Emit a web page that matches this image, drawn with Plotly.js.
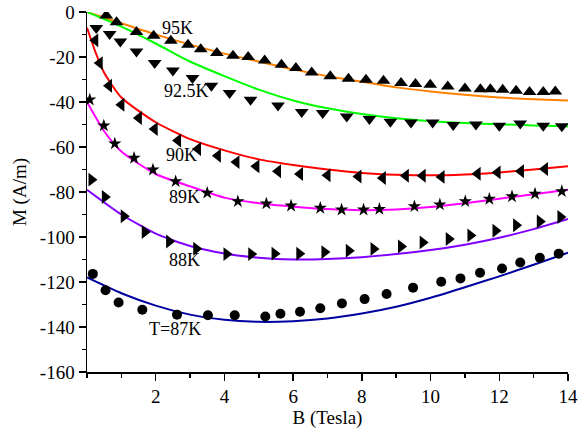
<!DOCTYPE html>
<html>
<head>
<meta charset="utf-8">
<script src="https://cdn.plot.ly/plotly-3.0.1.min.js"></script>
<style>html,body{margin:0;padding:0;background:#fff;}#chart{width:578px;height:434px;}</style>
</head>
<body>
<div id="chart"></div>
<script>
// ---- fitted curves ----
const fitB = [0, 1, 2, 3, 4, 5, 6, 7, 8, 9, 10, 11, 12, 13, 14];
const fit95 = [0, -5, -10, -14.5, -18.5, -22, -25.5, -28.5, -31, -33.5, -35.3, -36.8, -38, -38.8, -39.3];
const fit925 = [0, -6.5, -14, -22, -28.5, -34.5, -39.3, -42.8, -45.3, -47.2, -48.5, -49.3, -49.9, -50.4, -50.8];
const fit90B = [0, 0.25, 0.5, 1, 2, 3, 4, 5, 6, 7, 8, 9, 10, 11, 12, 13, 14];
const fit90 = [-7, -18, -27, -38, -49, -56.5, -61.5, -65.5, -68, -70, -71.5, -72.3, -72.6, -72.2, -71.3, -70, -68.6];
const fit89B = [0, 0.5, 1, 2, 3, 4, 5, 6, 7, 8, 9, 10, 11, 12, 13, 14];
const fit89 = [-40, -53, -62, -72, -77.5, -82.5, -85, -86.5, -87.6, -88.1, -87.8, -86.7, -85, -83, -81, -79];
const fit88 = [-79, -90, -98.5, -104, -107.3, -109.2, -110, -109.8, -109, -107.6, -105.8, -103.4, -100.3, -96.5, -92];
const fit87 = [-118, -125, -130.5, -134.5, -136.8, -137.7, -137.4, -136.2, -134, -131, -127, -122.3, -117.5, -112.3, -107];

// ---- measured points ----
const b95 = [0.56, 0.86, 1.44, 1.94, 2.44, 2.94, 3.31, 3.78, 4.25, 4.69, 5.17, 5.66, 6.08, 6.54, 7.08, 7.61, 8.12, 8.63, 9.14, 9.56, 9.99, 10.50, 11.00, 11.45, 11.74, 12.10, 12.49, 12.88, 13.28, 13.63];
const m95 = [-1.5, -4.5, -8.9, -10.5, -12.8, -14.5, -16.5, -18.2, -19.4, -20.0, -21.5, -23.4, -24.9, -26.9, -28.6, -29.7, -30.1, -30.6, -31.6, -32.0, -32.3, -33.1, -34.0, -34.3, -34.3, -34.6, -35.0, -35.6, -35.6, -35.3];
const b925 = [0.27, 0.66, 0.97, 1.44, 1.97, 2.50, 3.07, 3.62, 4.15, 4.76, 5.56, 6.25, 6.86, 7.56, 8.22, 8.83, 9.43, 10.06, 10.66, 11.32, 12.0, 12.61, 13.28, 13.82];
const m925 = [-7.1, -9.8, -13.1, -17.5, -22.7, -26, -29.3, -32.8, -36, -39, -41.6, -44.4, -44.9, -46.4, -47.6, -48.8, -49.1, -49.1, -50.2, -50, -50.5, -49.6, -50.5, -50.8];
const b90 = [0.24, 0.37, 0.64, 1.0, 1.51, 1.97, 2.65, 3.23, 3.81, 4.35, 4.93, 5.56, 6.20, 7.0, 7.9, 8.61, 9.28, 9.77, 10.32, 11.37, 11.95, 12.63, 13.33];
const m90 = [-12.6, -22.7, -32.8, -41.2, -47.1, -52, -57.1, -60.9, -63.9, -66.7, -68.6, -70.8, -72, -72.6, -73.1, -73.8, -72.8, -72.8, -73.3, -71.9, -71.3, -70.8, -69.8];
const b89 = [0.08, 0.49, 0.81, 1.37, 1.92, 2.58, 3.5, 4.39, 5.22, 5.94, 6.79, 7.41, 8.05, 8.51, 9.53, 10.27, 11.01, 11.71, 12.37, 13.04, 13.82];
const m89 = [-39, -50.5, -58.5, -64.9, -70.1, -75.3, -80.4, -84.2, -85.2, -86.1, -87.1, -87.9, -87.9, -87.6, -86.4, -85.6, -84.2, -83.1, -82, -80.8, -79.7];
const b88 = [0.13, 0.52, 1.07, 1.68, 2.39, 3.18, 4.06, 4.78, 5.46, 6.18, 6.91, 7.62, 8.34, 9.14, 9.77, 10.53, 11.16, 11.89, 12.49, 13.18, 13.78];
const m88 = [-74.5, -82.2, -90.8, -97.8, -102, -105.2, -107.6, -107.6, -107.4, -107.4, -106.7, -106.1, -105.3, -104.2, -102.4, -100.9, -99.3, -97.2, -94.8, -93.1, -91.1];
const b87 = [0.17, 0.54, 0.92, 1.61, 2.62, 3.52, 4.3, 5.19, 5.63, 6.2, 6.79, 7.42, 8.08, 8.72, 9.49, 10.31, 10.87, 11.44, 12.08, 12.61, 13.18, 13.73];
const m87 = [-116.4, -123.7, -129.1, -132.3, -134.5, -134.8, -134.8, -135.3, -134.1, -133.2, -131.7, -129.5, -127.6, -125.3, -122.5, -119.9, -118.4, -115.9, -114, -111.3, -109.2, -107.4];

const curveLabels = ["95K", "92.5K", "90K", "89K", "88K", "T=87K"];
const xTicks = [2, 4, 6, 8, 10, 12, 14];
const yTicks = [-160, -140, -120, -100, -80, -60, -40, -20, 0];

const FONT = "Liberation Serif";

function line(x, y, color) {
  return {x: x, y: y, mode: "lines", type: "scatter", line: {color: color, width: 2, shape: "spline", smoothing: 0.6}, hoverinfo: "skip"};
}
function pts(x, y, symbol, size) {
  return {x: x, y: y, mode: "markers", type: "scatter", marker: {symbol: symbol, size: size, color: "#000", line: {width: 0}}, hoverinfo: "skip"};
}

const data = [
  line(fitB, fit95, "#FF8000"),
  line(fitB, fit925, "#00FF00"),
  line(fit90B, fit90, "#FF0000"),
  line(fit89B, fit89, "#FF00FF"),
  line(fitB, fit88, "#8000FF"),
  line(fitB, fit87, "#0000A0"),
  pts(b95, m95, "triangle-up", 12),
  pts(b925, m925, "triangle-down", 12),
  pts(b90, m90, "triangle-left", 12),
  pts(b89, m89, "star", 10),
  pts(b88, m88, "triangle-right", 12),
  pts(b87, m87, "circle", 10)
];

const labelPos = [[2.64, -7], [2.89, -35.3], [2.75, -63.4], [2.84, -82], [2.84, -110.4], [2.55, -140.9]];
const annotations = curveLabels.map((t, i) => ({
  x: labelPos[i][0], y: labelPos[i][1], text: t, showarrow: false,
  xref: "x", yref: "y", font: {family: FONT, size: 18, color: "#000"}
}));

const layout = {
  width: 578, height: 434,
  margin: {l: 87, r: 10, t: 12, b: 62},
  paper_bgcolor: "#fff", plot_bgcolor: "#fff",
  showlegend: false,
  font: {family: FONT, size: 19, color: "#000"},
  xaxis: {
    range: [0, 14], tickvals: xTicks, ticktext: xTicks.map(String),
    showgrid: false, zeroline: false, showline: true, linecolor: "#000", linewidth: 1.5,
    ticks: "outside", ticklen: 7, tickwidth: 1.5, tickcolor: "#000",
    minor: {dtick: 1, tick0: 0, ticks: "outside", ticklen: 4, tickwidth: 1.5, tickcolor: "#000", showgrid: false},
    tickfont: {family: FONT, size: 19},
    title: {text: "B (Tesla)", font: {family: FONT, size: 19}, standoff: 4}
  },
  yaxis: {
    range: [-160, 0], tickvals: yTicks, ticktext: yTicks.map(String),
    showgrid: false, zeroline: false, showline: true, linecolor: "#000", linewidth: 1.5,
    ticks: "outside", ticklen: 7, tickwidth: 1.5, tickcolor: "#000",
    minor: {dtick: 10, tick0: 0, ticks: "outside", ticklen: 4, tickwidth: 1.5, tickcolor: "#000", showgrid: false},
    tickfont: {family: FONT, size: 19},
    title: {text: "M (A/m)", font: {family: FONT, size: 19}, standoff: 8}
  },
  annotations: annotations
};

Plotly.newPlot("chart", data, layout, {staticPlot: true, displayModeBar: false});
</script>
</body>
</html>
